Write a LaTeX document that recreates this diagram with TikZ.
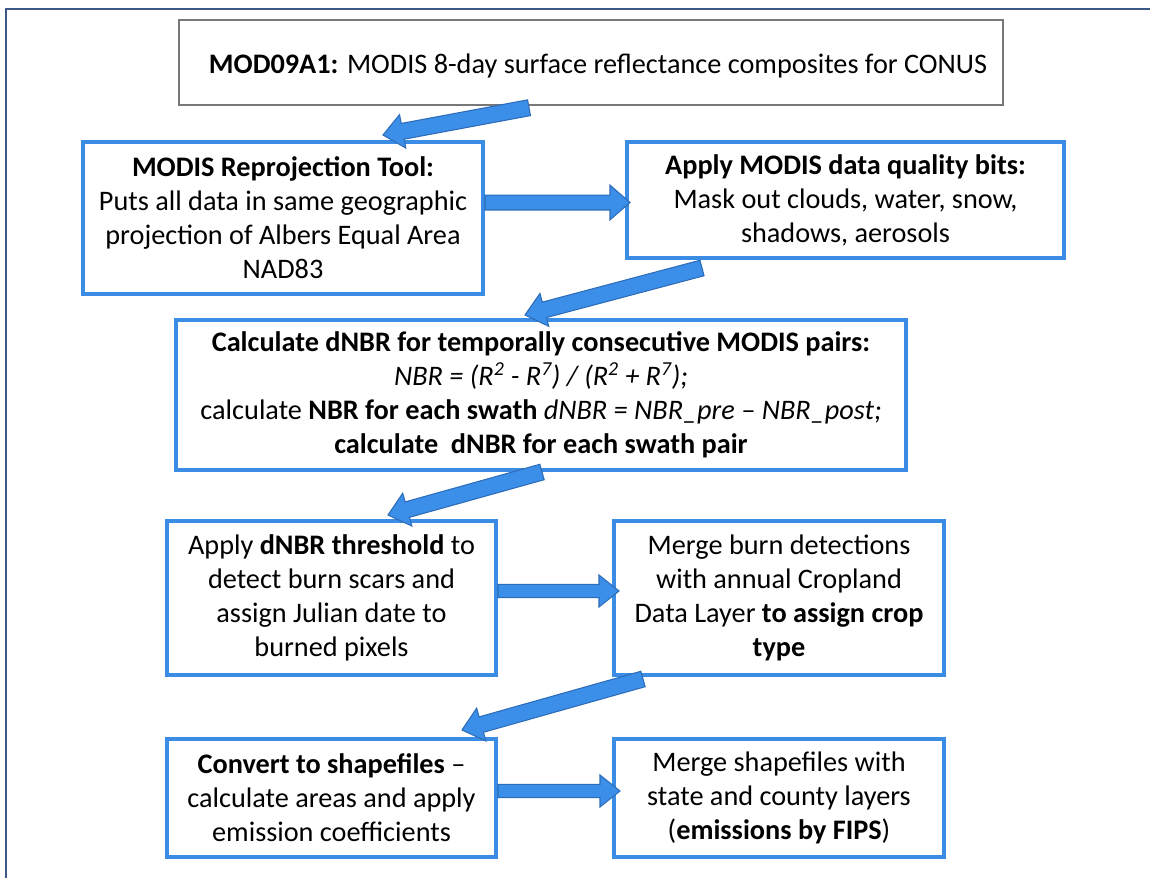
\documentclass[tikz,border=0pt]{standalone}
\usepackage{fontspec}
\setmainfont{Carlito}
\usetikzlibrary{calc}
\definecolor{boxblue}{RGB}{58,140,228}
\definecolor{arrowfill}{RGB}{60,143,232}
\definecolor{arrowline}{RGB}{45,108,185}
\definecolor{framec}{RGB}{60,88,135}
\definecolor{topgray}{RGB}{120,120,120}
\tikzset{
  stepbox/.style={draw=boxblue, line width=3pt, fill=white, align=center, inner sep=0pt,
    font=\fontsize{21.2pt}{25.5pt}\selectfont},
  topbox/.style={draw=topgray, line width=1.1pt, fill=white, align=center, inner sep=0pt,
    font=\fontsize{21.2pt}{25.5pt}\selectfont},
  blockarrow/.style={fill=arrowfill, draw=arrowline, line width=0.8pt, line join=miter},
  framestyle/.style={draw=framec, line width=1.2pt}
}
\newcommand\barrow[4]{%
  \path ($(#2)!15pt!(#1)$) coordinate (hb);
  \draw[blockarrow] ($(#1)!#3!90:(#2)$) -- ($(hb)!#3!-90:(#1)$) -- ($(hb)!#4!-90:(#1)$) -- (#2)
    -- ($(hb)!#4!90:(#1)$) -- ($(hb)!#3!90:(#1)$) -- ($(#1)!#3!-90:(#2)$) -- cycle;
}
\begin{document}
\begin{tikzpicture}[x=0.75pt,y=-0.75pt]
\useasboundingbox (0,0) rectangle (1150,878);
\fill[white] (0,0) rectangle (1150,878);
\draw[framestyle] (6,878) -- (6,9) -- (1150,9);

\node[topbox, minimum width=824*0.75pt, minimum height=85*0.75pt, text height=20pt, text depth=4.2pt] (top) at (591,62.5)
  {\hspace*{10.5pt}\textbf{MOD09A1:} MODIS 8-day surface reflectance composites for CONUS};

\node[stepbox, minimum width=400*0.75pt, minimum height=152*0.75pt] (b1) at (283,218)
  {\textbf{MODIS Reprojection Tool:}\\Puts all data in same geographic\\projection of Albers Equal Area\\NAD83};

\node[stepbox, minimum width=437*0.75pt, minimum height=116*0.75pt] (b2) at (845.5,200)
  {\textbf{Apply MODIS data quality bits:}\\Mask out clouds, water, snow,\\shadows, aerosols};

\node[stepbox, minimum width=730*0.75pt, minimum height=150*0.75pt] (b3) at (541,395)
  {\textbf{Calculate dNBR for temporally consecutive MODIS pairs:}\\
   \textit{NBR = (R\textsuperscript{2} - R\textsuperscript{7}) / (R\textsuperscript{2} + R\textsuperscript{7});}\\
   calculate \textbf{NBR for each swath} \textit{dNBR = NBR\_pre -- NBR\_post;}\\
   \textbf{calculate\ \ dNBR for each swath pair}};

\node[stepbox, minimum width=329*0.75pt, minimum height=154*0.75pt] (b4) at (331.5,598)
  {Apply \textbf{dNBR threshold} to\\detect burn scars and\\assign Julian date to\\burned pixels};

\node[stepbox, minimum width=330*0.75pt, minimum height=154*0.75pt] (b5) at (779,598)
  {Merge burn detections\\with annual Cropland\\Data Layer \textbf{to assign crop}\\\textbf{type}};

\node[stepbox, minimum width=329*0.75pt, minimum height=118*0.75pt] (b6) at (331.5,798)
  {\textbf{Convert to shapefiles} --\\calculate areas and apply\\emission coefficients};

\node[stepbox, minimum width=330*0.75pt, minimum height=118*0.75pt] (b7) at (779,798)
  {Merge shapefiles with\\state and county layers\\(\textbf{emissions by FIPS})};

% connector end points anchored on nodes
\coordinate (a1s) at ($(top.south)+(-62,2)$);
\coordinate (a1e) at ($(b1.north)+(100,-5)$);
\coordinate (a2s) at ($(b1.east)+(0,-15.5)$);
\coordinate (a2e) at ($(b2.west)+(5,2.5)$);
\coordinate (a3s) at ($(b2.south)+(-143.5,8)$);
\coordinate (a3e) at ($(b3.north)+(-16,-3)$);
\coordinate (a4s) at ($(b3.south)+(1,0)$);
\coordinate (a4e) at ($(b4.north)+(56.5,-4)$);
\coordinate (a5s) at ($(b5.south)+(-136,2)$);
\coordinate (a5e) at ($(b6.north)+(130.5,-7)$);
\coordinate (a6s) at ($(b4.east)+(0,-7)$);
\coordinate (a6e) at ($(b5.west)+(7,-7)$);
\coordinate (a7s) at ($(b6.east)+(0,-7)$);
\coordinate (a7e) at ($(b7.west)+(8,-7)$);

\barrow{a1s}{a1e}{6pt}{12.75pt}
\barrow{a2s}{a2e}{5.6pt}{13pt}
\barrow{a3s}{a3e}{6pt}{12.75pt}
\barrow{a4s}{a4e}{6pt}{12.75pt}
\barrow{a5s}{a5e}{6pt}{12.75pt}
\barrow{a6s}{a6e}{5pt}{12pt}
\barrow{a7s}{a7e}{5pt}{12pt}
\end{tikzpicture}
\end{document}
